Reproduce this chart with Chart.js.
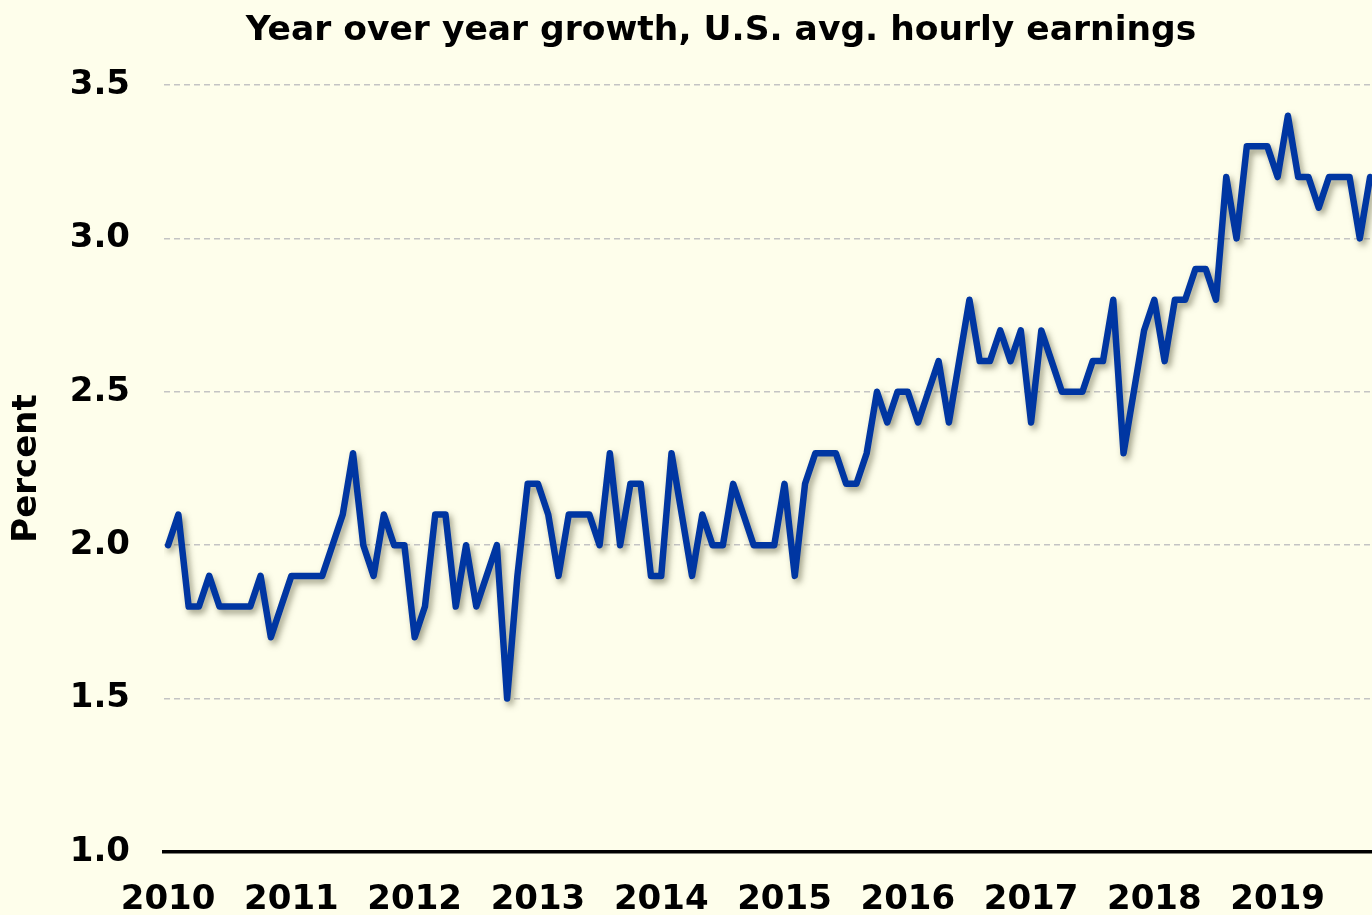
<!DOCTYPE html>
<html>
<head>
<meta charset="utf-8">
<script src="https://cdn.jsdelivr.net/npm/chart.js@4.4.1/dist/chart.umd.min.js"></script>
<style>
  html, body { margin: 0; padding: 0; background: #fefeeb; overflow: hidden; }
  #wrap { width: 1442px; height: 915px; position: relative; }
</style>
</head>
<body>
<div id="wrap"><canvas id="c"></canvas></div>
<script>
// Year-over-year growth (%) of U.S. average hourly earnings, monthly
const yearLabels = ['2010','2011','2012','2013','2014','2015','2016','2017','2018','2019'];
const v2010 = [2.0,2.1,1.8,1.8,1.9,1.8,1.8,1.8,1.8,1.9,1.7,1.8];
const v2011 = [1.9,1.9,1.9,1.9,2.0,2.1,2.3,2.0,1.9,2.1,2.0,2.0];
const v2012 = [1.7,1.8,2.1,2.1,1.8,2.0,1.8,1.9,2.0,1.5,1.9,2.2];
const v2013 = [2.2,2.1,1.9,2.1,2.1,2.1,2.0,2.3,2.0,2.2,2.2,1.9];
const v2014 = [1.9,2.3,2.1,1.9,2.1,2.0,2.0,2.2,2.1,2.0,2.0,2.0];
const v2015 = [2.2,1.9,2.2,2.3,2.3,2.3,2.2,2.2,2.3,2.5,2.4,2.5];
const v2016 = [2.5,2.4,2.5,2.6,2.4,2.6,2.8,2.6,2.6,2.7,2.6,2.7];
const v2017 = [2.4,2.7,2.6,2.5,2.5,2.5,2.6,2.6,2.8,2.3,2.5,2.7];
const v2018 = [2.8,2.6,2.8,2.8,2.9,2.9,2.8,3.2,3.0,3.3,3.3,3.3];
const v2019 = [3.2,3.4,3.2,3.2,3.1,3.2,3.2,3.2,3.0,3.2];
const yTicks = [1.0,1.5,2.0,2.5,3.0,3.5];

const values = [].concat(v2010,v2011,v2012,v2013,v2014,v2015,v2016,v2017,v2018,v2019);
const points = values.map((v, i) => ({x: i, y: v}));

const FONT = "'DejaVu Sans', Verdana, sans-serif";

const shadowPlugin = {
  id: 'lineShadow',
  beforeDatasetDraw(chart) {
    const ctx = chart.ctx;
    ctx.save();
    ctx.shadowColor = 'rgba(70,70,40,0.5)';
    ctx.shadowBlur = 6;
    ctx.shadowOffsetX = 3;
    ctx.shadowOffsetY = 4;
  },
  afterDatasetDraw(chart) {
    chart.ctx.restore();
  }
};

new Chart(document.getElementById('c'), {
  type: 'line',
  data: {
    datasets: [{
      data: points,
      borderColor: '#0036a2',
      borderWidth: 6.5,
      pointRadius: 0,
      tension: 0,
      borderJoinStyle: 'round',
      borderCapStyle: 'round',
      fill: false
    }]
  },
  options: {
    responsive: true,
    maintainAspectRatio: false,
    animation: false,
    layout: { padding: { left: 0, right: 0, top: 0, bottom: 0 } },
    plugins: {
      legend: { display: false },
      tooltip: { enabled: false },
      title: {
        display: true,
        text: 'Year over year growth, U.S. avg. hourly earnings',
        color: '#000',
        font: { family: FONT, size: 34.5, weight: 'bold', lineHeight: 1.2 },
        padding: { top: 10, bottom: 33.6 }
      }
    },
    scales: {
      x: {
        type: 'linear',
        min: -0.4,
        max: 124.0,
        afterBuildTicks(axis) {
          axis.ticks = yearLabels.map((y, i) => ({ value: i * 12 }));
        },
        afterFit(axis) { axis.height = 63; },
        grid: { display: false, drawTicks: false },
        border: { display: true, color: '#000', width: 3.5 },
        ticks: {
          color: '#000',
          padding: 28,
          maxRotation: 0,
          autoSkip: false,
          font: { family: FONT, size: 34, weight: 'bold' },
          callback: (val) => yearLabels[Math.round(val / 12)]
        }
      },
      y: {
        min: 1.0,
        max: 3.5,
        afterBuildTicks(axis) {
          axis.ticks = yTicks.map(v => ({ value: v }));
        },
        afterFit(axis) { axis.width = 164; },
        grid: {
          drawTicks: false,
          color: (c) => c.tick && c.tick.value === 1.0 ? 'rgba(0,0,0,0)' : '#c4c4c4',
          lineWidth: 1.5
        },
        border: { display: false, dash: [6, 4] },
        ticks: {
          color: '#000',
          padding: 34,
          font: { family: FONT, size: 34, weight: 'bold' },
          callback: (val) => Number(val).toFixed(1)
        },
        title: {
          display: true,
          text: 'Percent',
          color: '#000',
          font: { family: FONT, size: 34, weight: 'bold', lineHeight: 1.2 },
          padding: { top: 7, bottom: 0 }
        }
      }
    }
  },
  plugins: [shadowPlugin]
});
</script>
</body>
</html>
